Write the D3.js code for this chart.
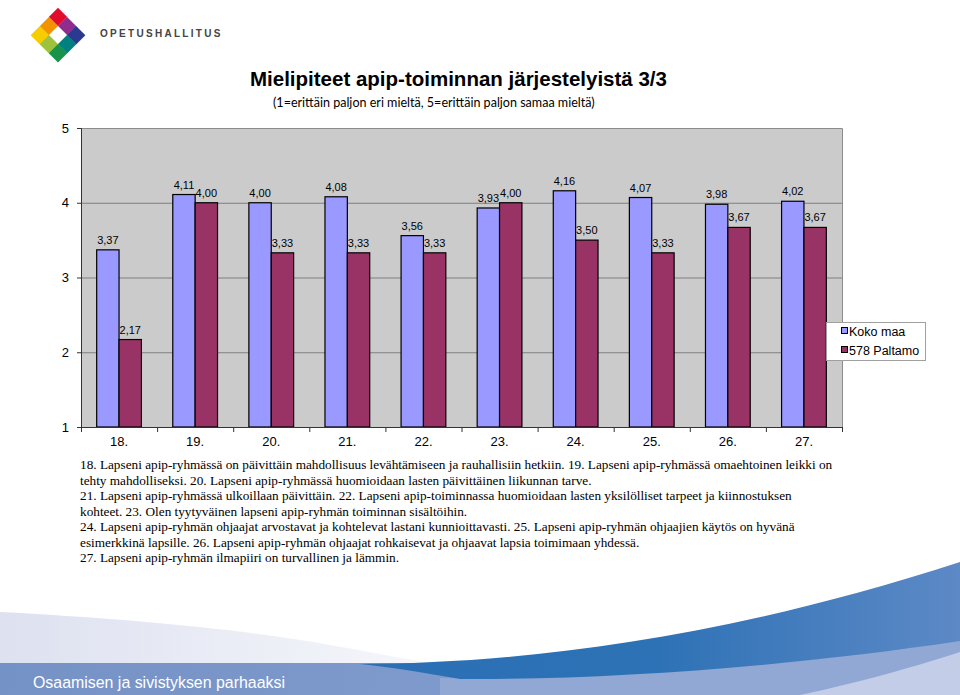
<!DOCTYPE html>
<html><head><meta charset="utf-8">
<script src="https://cdn.jsdelivr.net/npm/d3@7"></script>
<style>body{margin:0;background:#fff;}svg{display:block;}</style>
</head><body>
<svg id="c" width="960" height="695"></svg>
<script>
const categories = ["18.","19.","20.","21.","22.","23.","24.","25.","26.","27."];
const kokoMaa = [3.37,4.11,4.00,4.08,3.56,3.93,4.16,4.07,3.98,4.02];
const paltamo = [2.17,4.00,3.33,3.33,3.33,4.00,3.50,3.33,3.67,3.67];
const seriesNames = ["Koko maa","578 Paltamo"];
const seriesColors = ["#9999ff","#993366"];
const yTicks = [1,2,3,4,5];
const titleText = "Mielipiteet apip-toiminnan järjestelyistä 3/3";
const subtitleText = "(1=erittäin paljon eri mieltä, 5=erittäin paljon samaa mieltä)";
const noteLines = [
 "18. Lapseni apip-ryhmässä on päivittäin mahdollisuus levähtämiseen ja rauhallisiin hetkiin. 19. Lapseni apip-ryhmässä omaehtoinen leikki on",
 "tehty mahdolliseksi. 20. Lapseni apip-ryhmässä huomioidaan lasten päivittäinen liikunnan tarve.",
 "21. Lapseni apip-ryhmässä ulkoillaan päivittäin. 22. Lapseni apip-toiminnassa huomioidaan lasten yksilölliset tarpeet ja kiinnostuksen",
 "kohteet. 23. Olen tyytyväinen lapseni apip-ryhmän toiminnan sisältöihin.",
 "24. Lapseni apip-ryhmän ohjaajat arvostavat ja kohtelevat lastani kunnioittavasti. 25. Lapseni apip-ryhmän ohjaajien käytös on hyvänä",
 "esimerkkinä lapsille. 26. Lapseni apip-ryhmän ohjaajat rohkaisevat ja ohjaavat lapsia toimimaan yhdessä.",
 "27. Lapseni apip-ryhmän ilmapiiri on turvallinen ja lämmin."
];
const logoText = "OPETUSHALLITUS";
const footerText = "Osaamisen ja sivistyksen parhaaksi";

(function(){
const svg = d3.select("#c");
const defs = svg.append("defs");

function fit(sel, target){
  const fs = parseFloat(sel.attr("font-size"));
  const w = sel.node().getComputedTextLength();
  sel.attr("font-size", (fs*target/w).toFixed(2));
}

// ---------- Footer graphics ----------
const g1 = defs.append("linearGradient").attr("id","lav").attr("x1","0").attr("x2","1").attr("y1","0").attr("y2","0");
g1.append("stop").attr("offset","0").attr("stop-color","#dde1f0");
g1.append("stop").attr("offset","1").attr("stop-color","#f6f7fb");
const g2 = defs.append("linearGradient").attr("id","dk").attr("x1","0").attr("x2","1").attr("y1","0").attr("y2","0");
g2.append("stop").attr("offset","0").attr("stop-color","#2a6fb4");
g2.append("stop").attr("offset","0.5").attr("stop-color","#2e72b6");
g2.append("stop").attr("offset","1").attr("stop-color","#5d89c6");
const g3 = defs.append("linearGradient").attr("id","band").attr("x1","0").attr("x2","1").attr("y1","0").attr("y2","0");
g3.append("stop").attr("offset","0").attr("stop-color","#7592c6");
g3.append("stop").attr("offset","1").attr("stop-color","#8aa2d2");

const footer = svg.append("g");
footer.append("path").attr("d","M0,612 C120,618 250,630 330,645 C370,652 400,658 430,663 L0,663 Z").attr("fill","url(#lav)");
footer.append("rect").attr("x",0).attr("y",663).attr("width",960).attr("height",32).attr("fill","url(#band)");
footer.append("path").attr("d","M440,678 C600,679 780,668 960,640 L960,695 L440,695 Z").attr("fill","#91a8d4");
footer.append("path").attr("d","M800,695 C870,680 920,665 960,652 L960,695 Z").attr("fill","#c3cde8");
footer.append("path").attr("d","M360,664 C520,663 720,640 960,562 L960,641 C780,668 600,680 460,679 C420,672 390,667 360,664 Z").attr("fill","url(#dk)");
const ft = footer.append("text").attr("x",33).attr("y",688).attr("fill","#ffffff")
  .attr("font-family","Liberation Sans, Arial, sans-serif").attr("font-size",17).text(footerText);
fit(ft, 252);

// ---------- Logo ----------
const logoColors = [
  ["#e30b2d","#8f2c8e","#2b3990"],
  ["#f39200","#ffffff","#00817f"],
  ["#f5cd00","#9dc23b","#17944a"]
];
const cell = 12.8;
const logo = svg.append("g").attr("transform","translate(58,35) rotate(45)");
logoColors.forEach((row,r)=>row.forEach((c,k)=>{
  logo.append("rect").attr("x",(k-1.5)*cell).attr("y",(r-1.5)*cell).attr("width",cell+0.3).attr("height",cell+0.3).attr("fill",c);
}));
svg.append("text").attr("x",100).attr("y",37).attr("fill","#444")
  .attr("font-family","Liberation Sans, Arial, sans-serif").attr("font-weight","bold")
  .attr("font-size",10).attr("letter-spacing",2.3).text(logoText);

// ---------- Titles ----------
const tt = svg.append("text").attr("x",250).attr("y",86).attr("font-family","Liberation Sans, Arial, sans-serif")
  .attr("font-weight","bold").attr("font-size",18).attr("fill","#000").text(titleText);
fit(tt, 417);
const st = svg.append("text").attr("x",273).attr("y",107).attr("font-family","Lato, Open Sans, sans-serif")
  .attr("font-size",13).attr("fill","#000").text(subtitleText);
fit(st, 322);

// ---------- Chart ----------
const pL = 81, pR = 842, pT = 128, pB = 427;
const x0 = d3.scaleBand().domain(categories).range([pL,pR]).padding(0);
const bw = x0.bandwidth();
const x1 = d3.scaleBand().domain(seriesNames).range([bw*0.206, bw*0.794]).padding(0);
const y = d3.scaleLinear().domain([1,5]).range([pB,pT]);

const chart = svg.append("g");
chart.append("rect").attr("x",pL).attr("y",pT).attr("width",pR-pL).attr("height",pB-pT).attr("fill","#cbcbcb");
chart.selectAll("line.grid").data(yTicks.filter(v=>v>1 && v<5)).enter().append("line")
  .attr("x1",pL).attr("x2",pR).attr("y1",d=>y(d)+0.5).attr("y2",d=>y(d)+0.5)
  .attr("stroke","#7f7f7f").attr("stroke-width",1);
chart.append("path").attr("d",`M${pL},${pT+0.5}H${pR+0.5}V${pB}`).attr("fill","none").attr("stroke","#8c8c8c");

const data = categories.map((c,i)=>({cat:c, vals:[kokoMaa[i], paltamo[i]]}));
const groups = chart.selectAll("g.grp").data(data).enter().append("g").attr("transform",d=>`translate(${x0(d.cat)},0)`);
groups.selectAll("rect").data(d=>d.vals.map((v,j)=>({v, s:seriesNames[j], j}))).enter().append("rect")
  .attr("x",d=>x1(d.s)).attr("y",d=>y(d.v)).attr("width",x1.bandwidth()).attr("height",d=>pB-y(d.v))
  .attr("fill",d=>seriesColors[d.j]).attr("stroke","#000").attr("stroke-width",1.2);
groups.selectAll("text").data(d=>d.vals.map((v,j)=>({v, s:seriesNames[j], j}))).enter().append("text")
  .attr("x",d=>x1(d.s)+x1.bandwidth()/2).attr("y",d=>y(d.v)-6)
  .attr("text-anchor","middle").attr("font-family","Liberation Sans, Arial, sans-serif").attr("font-size",11)
  .attr("fill","#000").text(d=>d.v.toFixed(2).replace(".",","));

const yAxis = chart.append("g").attr("transform",`translate(${pL},0)`)
  .call(d3.axisLeft(y).tickValues(yTicks).tickSize(4).tickPadding(8).tickFormat(d3.format("d")));
yAxis.select(".domain").attr("stroke","#333");
yAxis.selectAll(".tick line").attr("stroke","#333");
yAxis.selectAll("text").attr("font-family","Liberation Sans, Arial, sans-serif").attr("font-size",13).attr("fill","#000");

const xAxis = chart.append("g").attr("transform",`translate(0,${pB})`)
  .call(d3.axisBottom(x0).tickSize(0).tickPadding(10));
xAxis.select(".domain").attr("stroke","#333");
xAxis.selectAll("text").attr("font-family","Liberation Sans, Arial, sans-serif").attr("font-size",13).attr("fill","#000");
const bounds = categories.map(c=>x0(c)).concat([pR]);
xAxis.selectAll("line.bt").data(bounds).enter().append("line").attr("class","bt")
  .attr("x1",d=>d+0.5).attr("x2",d=>d+0.5).attr("y1",0).attr("y2",5).attr("stroke","#333");

const leg = svg.append("g").attr("transform","translate(826,322)");
leg.append("rect").attr("x",0.5).attr("y",0.5).attr("width",99).attr("height",38).attr("fill","#fff").attr("stroke","#a0a0a0");
seriesNames.forEach((n,i)=>{
  leg.append("rect").attr("x",15.5).attr("y",5.5+i*19).attr("width",6).attr("height",6).attr("fill",seriesColors[i]).attr("stroke","#000");
  leg.append("text").attr("x",23).attr("y",13.5+i*19).attr("font-family","Liberation Sans, Arial, sans-serif")
    .attr("font-size",12.5).attr("fill","#000").text(n);
});

const notes = svg.append("g");
noteLines.forEach((l,i)=>{
  notes.append("text").attr("x",80).attr("y",469+i*15.5).attr("font-family","Liberation Serif, Times New Roman, serif")
    .attr("font-size",13).attr("fill","#000").text(l);
});
const first = notes.select("text");
const w0 = first.node().getComputedTextLength();
notes.selectAll("text").attr("font-size",(13*752/w0).toFixed(2));
})();
</script>
</body></html>
